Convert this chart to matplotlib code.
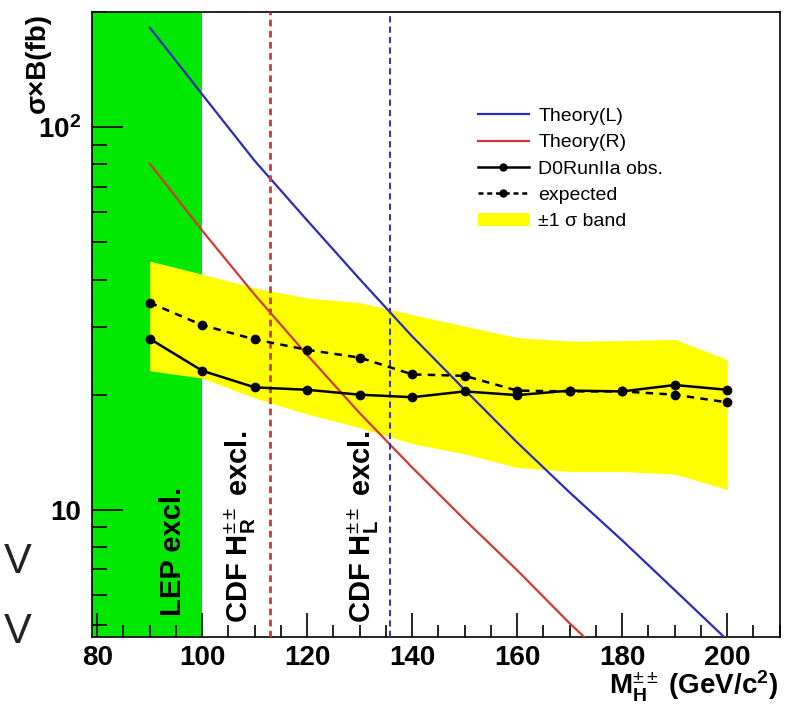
import numpy as np
import matplotlib
matplotlib.use("Agg")
import matplotlib.pyplot as plt
from matplotlib.lines import Line2D
from matplotlib.patches import Patch

plt.rcParams['font.family'] = ['Liberation Sans', 'DejaVu Sans']
plt.rcParams['mathtext.fontset'] = 'custom'
plt.rcParams['mathtext.rm'] = 'Liberation Sans'
plt.rcParams['mathtext.bf'] = 'Liberation Sans:bold'
plt.rcParams['mathtext.it'] = 'Liberation Sans:italic'

# mass points (GeV/c^2)
mass = [90, 100, 110, 120, 130, 140, 150, 160, 170, 180, 190, 200]

# D0 Run IIa limits (fb)
obs = [28.0, 23.1, 20.9, 20.6, 20.0, 19.7, 20.4, 19.95, 20.5, 20.4, 21.2, 20.6]
expected = [34.8, 30.4, 27.9, 26.2, 25.0, 22.6, 22.4, 20.5, 20.4, 20.4, 20.0, 19.1]
band_hi = [44.7, 41.3, 38.0, 35.8, 34.8, 32.4, 30.2, 28.2, 27.6, 27.7, 27.9, 24.7]
band_lo = [23.1, 22.1, 19.6, 17.8, 16.4, 14.9, 14.0, 12.9, 12.6, 12.6, 12.4, 11.3]

# theory cross sections (fb)
theory_L = [182.4, 121.9, 81.7, 57.1, 40.1, 28.4, 20.6, 15.0, 11.1, 8.32, 6.17, 4.57]
mass_R = [90, 100, 110, 120, 130, 140, 150, 160, 170, 180]
theory_R = [80.4, 53.7, 36.5, 25.4, 17.9, 12.9, 9.42, 6.95, 5.05, 3.75]

# excluded regions
lep_limit = 100
cdf_R = 112.9
cdf_L = 135.8

fig = plt.figure(figsize=(7.86, 7.15), dpi=100)
ax = fig.add_axes([0.117, 0.109, 0.875, 0.874])

xmin, xmax = 79, 210
ymin, ymax = 4.65, 200

ax.axvspan(xmin, lep_limit, color='#00e800', lw=0, zorder=1)
ax.fill_between(mass, band_lo, band_hi, color='#ffff00', lw=0, zorder=2)
ax.plot(mass, theory_L, color='#2b2bb8', lw=1.6, zorder=3)
ax.plot(mass_R, theory_R, color='#d03a30', lw=1.6, zorder=3)
ax.axvline(cdf_R, color='#c83a40', lw=2.0, ls=(0, (2.4, 1.6)), zorder=3)
ax.axvline(cdf_L, color='#3a3ab0', lw=1.5, ls=(0, (3, 2)), zorder=3)
ax.plot(mass, expected, color='black', lw=1.8, ls=(0, (3, 2.5)),
        marker='o', ms=6, zorder=4)
ax.plot(mass, obs, color='black', lw=1.8, marker='o', ms=6, zorder=5)

ax.set_yscale('log')
ax.set_xlim(xmin, xmax)
ax.set_ylim(ymin, ymax)

ax.set_xticks(np.arange(80, 201, 20))
ax.set_xticks(np.arange(80, 211, 5), minor=True)
ax.set_xticklabels([str(v) for v in range(80, 201, 20)])
ax.set_yticks([10, 100])
ax.set_yticklabels(['10', r'$\mathbf{10^{2}}$'])
ax.yaxis.set_minor_formatter(matplotlib.ticker.NullFormatter())
ax.tick_params(which='both', direction='in', top=False, right=False,
               labelsize=20, width=1.2)
ax.tick_params(which='major', axis='y', length=22, pad=8)
ax.tick_params(which='minor', axis='y', length=11)
ax.tick_params(which='major', axis='x', length=17, pad=6)
ax.tick_params(which='minor', axis='x', length=9)
for lab in ax.get_xticklabels() + ax.get_yticklabels():
    lab.set_fontweight('bold')
for sp in ax.spines.values():
    sp.set_linewidth(1.2)

# exclusion labels
ax.text(94.4, 5.28, 'LEP excl.', rotation=90, ha='center', va='bottom',
        fontsize=21, fontweight='bold', zorder=6)
ax.text(107.3, 5.07, r'CDF H$_{\mathbf{R}}^{\pm\pm}$ excl.', rotation=90,
        ha='center', va='bottom', fontsize=21, fontweight='bold', zorder=6)
ax.text(130.6, 5.07, r'CDF H$_{\mathbf{L}}^{\pm\pm}$ excl.', rotation=90,
        ha='center', va='bottom', fontsize=21, fontweight='bold', zorder=6)

fig.text(0.048, 0.982, 'σ×B(fb)', rotation=90,
         ha='center', va='top', fontsize=20, fontweight='bold')
fig.text(0.99, 0.015, r'M$_{\mathbf{H}}^{\pm\pm}$ (GeV/c$^{\mathbf{2}}$)',
         ha='right', va='bottom', fontsize=20, fontweight='bold')

fig.text(0.022, 1 - 562 / 715, 'V', ha='center', va='center', fontsize=30,
         fontweight='light', color='#222222')
fig.text(0.022, 1 - 632 / 715, 'V', ha='center', va='center', fontsize=30,
         fontweight='light', color='#222222')

handles = [
    Line2D([], [], color='#2b2bb8', lw=1.6),
    Line2D([], [], color='#d03a30', lw=1.6),
    Line2D([], [], color='black', lw=1.8, marker='o', ms=5),
    Line2D([], [], color='black', lw=1.8, ls=(0, (2, 1.5)), marker='o', ms=5),
    Patch(facecolor='#ffff00', edgecolor='none'),
]
labels = ['Theory(L)', 'Theory(R)', 'D0RunIIa obs.', 'expected',
          '±1 σ band']
ax.legend(handles, labels, loc='upper left', bbox_to_anchor=(0.55, 0.86),
          frameon=False, fontsize=14, handlelength=2.6, handletextpad=0.5,
          labelspacing=0.45, borderaxespad=0)

fig.savefig('out.png', dpi=100)
